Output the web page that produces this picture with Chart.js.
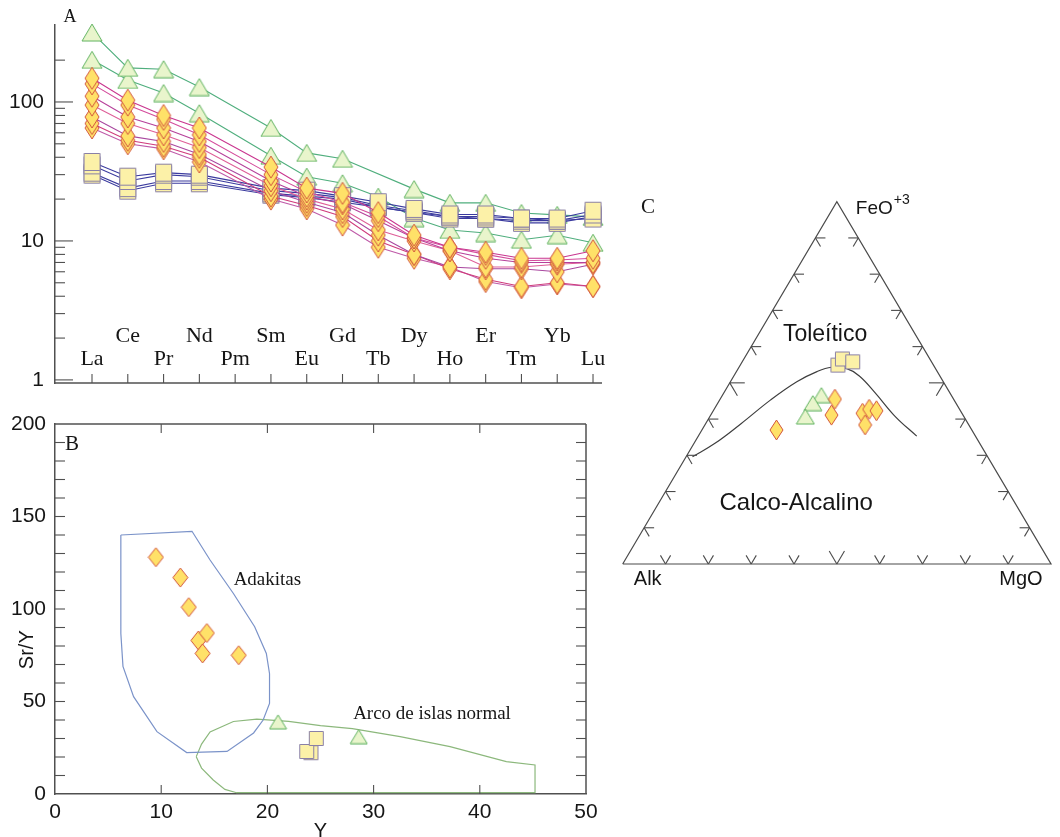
<!DOCTYPE html>
<html>
<head>
<meta charset="utf-8">
<script src="https://cdn.jsdelivr.net/npm/chart.js@4.4.1/dist/chart.umd.min.js"></script>
<style>
  html, body { margin: 0; padding: 0; background: #fff; overflow: hidden; }
  .layer { position: absolute; left: 0; top: 0; }
</style>
</head>
<body>
<canvas id="panelA" class="layer" width="1060" height="837"></canvas>
<canvas id="panelB" class="layer" width="1060" height="837"></canvas>
<canvas id="panelC" class="layer" width="1060" height="837"></canvas>
<script>
// Three-panel geochemistry figure: A REE spider (log), B Sr/Y vs Y, C AFM ternary.
// Each panel is its own Chart.js chart on a full-page transparent canvas.

const SANS = "'Liberation Sans', Arial, sans-serif";
const SERIF = "'Liberation Serif', 'Times New Roman', serif";
const INK = "#161616";
const FRAME = "#505050";

// ---------- panel A: chondrite-normalised REE ----------
const ree = ["La", "Ce", "Pr", "Nd", "Pm", "Sm", "Eu", "Gd", "Tb", "Dy", "Ho", "Er", "Tm", "Yb", "Lu"];
const yTicksA = [1, 10, 100];

const triA1 = [316, 176, 172, 128, null, 65, 43, 39, null, 23.6, 18.8, 18.8, 15.9, 15.4, 14.9];
const triA2 = [201, 144, 116, 83, null, 41, 29, 26, 20.8, 14.6, 12.0, 11.4, 10.2, 11.0, 9.7];

const sqA1 = [37, 29, 31, 30, null, 24, 23, 21, 19, 17, 15.5, 15.5, 14.5, 14.5, 16.5];
const sqA2 = [35, 27, 30, 29, null, 23, 22, 20.5, 18, 16.5, 15, 15, 14.5, 14, 15.5];
const sqA3 = [31, 24, 27, 27, null, 22, 21, 20, 17.5, 16, 15, 14.5, 14, 14, 14.5];
const sqA4 = [30, 23, 26, 26, null, 21.5, 20.5, 19, 17.5, 16, 14.5, 14.5, 13.5, 13.5, 15];

const diaA1 = [148, 103, 80, 65, null, 34, 24, 22, 16, 11, 9, 8.3, 7.5, 7.5, 8.5];
const diaA2 = [135, 95, 75, 58, null, 30, 22.5, 19, 15, 10.5, 9, 8, 7.2, 7.3, 7.5];
const diaA3 = [110, 78, 65, 52, null, 27, 21, 18.5, 14, 10.5, 8.5, 7.5, 7, 7, 7];
const diaA4 = [95, 70, 58, 47, null, 25, 20, 17, 12, 10, 8.5, 6.5, 6.5, 6.8, 7];
const diaA5 = [78, 57, 52, 42, null, 23, 19, 16, 11, 8, 6.5, 6.3, 6.3, 6, 6.8];
const diaA6 = [70, 53, 48, 40, null, 21, 18, 15, 10, 8, 6.3, 5.3, 4.7, 5, 4.7];
const diaA7 = [65, 50, 46, 37, null, 20, 17, 13, 9, 7.5, 6.5, 5.1, 4.6, 4.9, 4.7];

// ---------- panel B: Sr/Y vs Y ----------
const xTicksB = [0, 10, 20, 30, 40, 50];
const yTicksB = [0, 50, 100, 150, 200];

const diaBx = [9.5, 11.8, 12.6, 13.5, 14.3, 13.9, 17.3];
const diaBy = [128, 117, 101, 83, 87, 76, 75];
const triBx = [21.0, 28.6];
const triBy = [39, 31];
const sqBx = [24.1, 23.7, 24.6];
const sqBy = [22.3, 23, 30];

const adakX = [6.2, 12.9, 14.6, 16.8, 18.8, 19.9, 20.2, 20.2, 19.6, 18.7, 16.2, 12.4, 9.6, 7.4, 6.4, 6.2, 6.2];
const adakY = [140, 142, 126.5, 108.4, 90.4, 76, 65, 49, 40, 33, 23, 22.4, 33.7, 52.6, 69, 86.8, 140];
const arcX = [13.3, 13.8, 14.6, 16.8, 19.0, 22.0, 25.0, 28.0, 32.5, 37.2, 42.5, 45.2, 45.2, 17.1, 16.0, 14.9, 13.8, 13.3];
const arcY = [20.2, 27, 33.5, 39.2, 40.5, 39.3, 37, 35.3, 31, 25.6, 17.5, 15.7, 0.7, 0.7, 2.5, 7.6, 14, 20.2];

// ---------- panel C: AFM ternary (FeO, MgO in %, Alk = rest) ----------
const cornerF = [0, 100, 0, 0];
const cornerM = [0, 0, 100, 0];
const bndF = [29.6, 33.3, 38.8, 45.3, 50.3, 53.1, 54.3, 54.0, 51.9, 47.1, 40.7, 35.3];
const bndM = [1.5, 4.9, 8.3, 11.9, 15.5, 18.8, 21.6, 25.2, 29.3, 35.5, 43.3, 51.0];
const sqCF = [54.9, 56.6, 55.8];
const sqCM = [22.8, 23.0, 25.8];
const triCF = [46.6, 44.4, 40.7];
const triCM = [23.1, 22.2, 22.3];
const diaCF = [45.5, 41.1, 37.0, 41.6, 42.7, 42.3, 38.4];
const diaCM = [26.8, 28.2, 17.4, 35.2, 36.2, 38.1, 37.4];

// ---------- markers ----------
const FILL = { tri: "#e9f5cc", dia: "#ffe168", sq: "#fcf1a8" };
const EDGE = { tri: "#5fb25f", dia: "#d2543c", sq: "#8a80a6" };

function marker(kind, w, h) {
  const c = document.createElement("canvas");
  c.width = w + 2;
  c.height = h + 2;
  const g = c.getContext("2d");
  g.translate(1, 1);
  g.beginPath();
  if (kind === "tri") {
    g.moveTo(w / 2, 0); g.lineTo(w, h); g.lineTo(0, h);
  } else if (kind === "dia") {
    g.moveTo(w / 2, 0); g.lineTo(w, h / 2); g.lineTo(w / 2, h); g.lineTo(0, h / 2);
  } else {
    g.rect(0.5, 0.5, w - 1, h - 1);
  }
  g.closePath();
  g.fillStyle = FILL[kind];
  g.fill();
  g.lineWidth = 1;
  g.strokeStyle = EDGE[kind];
  g.stroke();
  return c;
}

const mkA = { tri: marker("tri", 20, 17), dia: marker("dia", 14, 22), sq: marker("sq", 17, 18) };
const mkB = { tri: marker("tri", 17, 14), dia: marker("dia", 15, 19), sq: marker("sq", 15, 15) };
const mkC = { tri: marker("tri", 18, 15), dia: marker("dia", 13, 20), sq: marker("sq", 15, 15) };

// ---------- helpers ----------
function seg(ctx, x1, y1, x2, y2) {
  ctx.beginPath();
  ctx.moveTo(x1, y1);
  ctx.lineTo(x2, y2);
  ctx.stroke();
}

const zip = (xs, ys) => xs.map((x, i) => ({ x, y: ys[i] }));
const tern = (fs, ms) => fs.map((f, i) => ({ x: (ms[i] + f / 2) / 100, y: f / 100 }));

function markSet(data, style) {
  return { data, showLine: false, pointStyle: style, pointRadius: 8, clip: false };
}

function outline(data, color, width, tension = 0) {
  return { data, borderColor: color, borderWidth: width, pointRadius: 0, tension, clip: false };
}

const baseOpts = {
  responsive: false,
  animation: false,
  events: [],
  plugins: { legend: { display: false }, tooltip: { enabled: false } },
};

Chart.defaults.font.family = SANS;
Chart.defaults.color = INK;

// ---------- A ----------
function reeSet(vals, line, style) {
  return {
    data: vals.map((v, i) => ({ x: i, y: v })),
    borderColor: line, borderWidth: 1.1,
    pointStyle: style, pointRadius: 8,
    spanGaps: true, clip: false,
  };
}

const diaLines = ["#c9358f", "#d44c9c", "#b6409a", "#de5e98", "#a9479f", "#cf3b7c", "#bf5aa8"];

const panelADecor = {
  id: "panelADecor",
  afterDraw(chart) {
    const { ctx, chartArea: a, scales: { x, y } } = chart;
    ctx.save();
    ctx.strokeStyle = FRAME;
    ctx.lineWidth = 1.5;
    seg(ctx, a.left, a.bottom, a.right, a.bottom);
    ctx.lineWidth = 1.1;
    ree.forEach((_, i) => {
      const px = x.getPixelForValue(i);
      seg(ctx, px, a.bottom, px, a.bottom - 9);
    });
    for (let d = 1; d <= 100; d *= 10) {
      for (let k = 1; k <= 9; k++) {
        const v = d * k;
        if (v > 200) break;
        const py = y.getPixelForValue(v);
        seg(ctx, a.left, py, a.left + (k === 1 ? 18 : 10), py);
      }
    }
    ctx.fillStyle = INK;
    ctx.font = `22px ${SERIF}`;
    ctx.textAlign = "center";
    ctx.textBaseline = "alphabetic";
    ree.forEach((el, i) => ctx.fillText(el, x.getPixelForValue(i), a.bottom - (i % 2 ? 41 : 18)));
    ctx.font = `18px ${SERIF}`;
    ctx.fillText("A", a.left + 15, a.top - 3);
    ctx.restore();
  },
};

new Chart(document.getElementById("panelA"), {
  type: "line",
  data: {
    datasets: [
      ...[diaA1, diaA2, diaA3, diaA4, diaA5, diaA6, diaA7].map((v, i) => reeSet(v, diaLines[i], mkA.dia)),
      ...[sqA1, sqA2, sqA3, sqA4].map((v) => reeSet(v, "#3a3a9e", mkA.sq)),
      ...[triA1, triA2].map((v) => reeSet(v, "#4fae7d", mkA.tri)),
    ],
  },
  options: {
    ...baseOpts,
    layout: { padding: { left: 0, top: 25, right: 458, bottom: 454 } },
    scales: {
      x: { type: "linear", min: -1.034, max: 14.251, display: false },
      y: {
        type: "logarithmic", min: 0.95, max: 358,
        afterFit: (s) => { s.width = 55; },
        afterBuildTicks: (s) => { s.ticks = yTicksA.map((v) => ({ value: v })); },
        grid: { display: false, drawTicks: false },
        border: { display: true, color: FRAME, width: 1.5 },
        ticks: { font: { size: 21 }, color: INK, padding: 11, callback: (v) => String(v) },
      },
    },
  },
  plugins: [panelADecor],
});

// ---------- B ----------
const panelBDecor = {
  id: "panelBDecor",
  afterDraw(chart) {
    const { ctx, chartArea: a, scales: { x, y } } = chart;
    ctx.save();
    ctx.strokeStyle = FRAME;
    ctx.lineWidth = 1.5;
    seg(ctx, a.left, a.top, a.right, a.top);
    seg(ctx, a.right, a.top, a.right, a.bottom);
    ctx.lineWidth = 1.1;
    for (let v = 10; v < 50; v += 10) {
      const px = x.getPixelForValue(v);
      seg(ctx, px, a.top, px, a.top + 9);
      seg(ctx, px, a.bottom, px, a.bottom - 9);
    }
    for (let v = 10; v < 200; v += 10) {
      const py = y.getPixelForValue(v);
      seg(ctx, a.left, py, a.left + 10, py);
      seg(ctx, a.right, py, a.right - 10, py);
    }
    ctx.fillStyle = INK;
    ctx.textBaseline = "alphabetic";
    ctx.font = `21px ${SERIF}`;
    ctx.textAlign = "left";
    ctx.fillText("B", a.left + 10, a.top + 26);
    ctx.font = `19px ${SERIF}`;
    ctx.textAlign = "center";
    ctx.fillText("Adakitas", x.getPixelForValue(20), y.getPixelForValue(113));
    ctx.fillText("Arco de islas normal", x.getPixelForValue(35.5), y.getPixelForValue(40.5));
    ctx.font = `20px ${SANS}`;
    ctx.fillText("Y", x.getPixelForValue(25), a.bottom + 43);
    ctx.translate(a.left - 22, y.getPixelForValue(78));
    ctx.rotate(-Math.PI / 2);
    ctx.fillText("Sr/Y", 0, 0);
    ctx.restore();
  },
};

const axisB = (ticks, fit) => ({
  type: "linear", min: ticks[0], max: ticks[ticks.length - 1],
  afterFit: fit,
  afterBuildTicks: (s) => { s.ticks = ticks.map((v) => ({ value: v })); },
  grid: { display: false, drawTicks: false },
  border: { display: true, color: FRAME, width: 1.5 },
  ticks: { font: { size: 21 }, color: INK, maxRotation: 0 },
});

const xB = axisB(xTicksB, (s) => { s.height = 43; });
xB.ticks.padding = 6;
const yB = axisB(yTicksB, (s) => { s.width = 55; });
yB.ticks.padding = 9;

new Chart(document.getElementById("panelB"), {
  type: "line",
  data: {
    datasets: [
      markSet(zip(diaBx, diaBy), mkB.dia),
      markSet(zip(sqBx, sqBy), mkB.sq),
      markSet(zip(triBx, triBy), mkB.tri),
      outline(zip(adakX, adakY), "#7b93c9", 1.2),
      outline(zip(arcX, arcY), "#8cb87c", 1.2),
    ],
  },
  options: {
    ...baseOpts,
    layout: { padding: { left: 0, top: 424, right: 474, bottom: 0 } },
    scales: { x: xB, y: yB },
  },
  plugins: [panelBDecor],
});

// ---------- C ----------
const panelCDecor = {
  id: "panelCDecor",
  afterDraw(chart) {
    const { ctx, scales: { x, y } } = chart;
    const px = (f, m) => ({ x: x.getPixelForValue((m + f / 2) / 100), y: y.getPixelForValue(f / 100) });
    const alk = px(0, 0), fe = px(100, 0), mg = px(0, 100);
    const unit = (p, q) => { const dx = q.x - p.x, dy = q.y - p.y, l = Math.hypot(dx, dy); return { x: dx / l, y: dy / l }; };
    const sides = [
      { at: (t) => px(0, t), arms: [unit(alk, fe), unit(mg, fe)] },
      { at: (t) => px(t, 0), arms: [unit(alk, mg), unit(fe, mg)] },
      { at: (t) => px(t, 100 - t), arms: [unit(mg, alk), unit(fe, alk)] },
    ];
    ctx.save();
    ctx.strokeStyle = "#4a4a4a";
    ctx.lineWidth = 1.1;
    sides.forEach((s) => {
      for (let t = 10; t < 100; t += 10) {
        const p = s.at(t);
        const len = t === 50 ? 15 : 10;
        s.arms.forEach((u) => seg(ctx, p.x, p.y, p.x + u.x * len, p.y + u.y * len));
      }
    });
    ctx.fillStyle = INK;
    ctx.textBaseline = "alphabetic";
    ctx.textAlign = "center";
    ctx.font = `21px ${SERIF}`;
    ctx.fillText("C", 648, fe.y + 11);
    ctx.font = `20px ${SANS}`;
    ctx.fillText("Alk", alk.x + 25, alk.y + 21);
    ctx.fillText("MgO", mg.x - 30, mg.y + 21);
    ctx.textAlign = "left";
    ctx.font = `19px ${SANS}`;
    ctx.fillText("FeO", fe.x + 19, fe.y + 12);
    ctx.font = `14px ${SANS}`;
    ctx.fillText("+3", fe.x + 57, fe.y + 2);
    ctx.textAlign = "center";
    ctx.font = `23px ${SANS}`;
    const tol = px(61.5, 16.5);
    ctx.fillText("Toleítico", tol.x, tol.y);
    ctx.font = `24px ${SANS}`;
    const calc = px(15, 33);
    ctx.fillText("Calco-Alcalino", calc.x, calc.y);
    ctx.restore();
  },
};

new Chart(document.getElementById("panelC"), {
  type: "line",
  data: {
    datasets: [
      markSet(tern(diaCF, diaCM), mkC.dia),
      markSet(tern(sqCF, sqCM), mkC.sq),
      markSet(tern(triCF, triCM), mkC.tri),
      outline(tern(bndF, bndM), "#3e3e3e", 1.2, 0.4),
      outline(tern(cornerF, cornerM), "#4a4a4a", 1.2),
    ],
  },
  options: {
    ...baseOpts,
    layout: { padding: { left: 622.7, top: 201.7, right: 1.7, bottom: 273 } },
    scales: {
      x: { type: "linear", min: 0, max: 1, display: false },
      y: { type: "linear", min: 0, max: 1, display: false },
    },
  },
  plugins: [panelCDecor],
});
</script>
</body>
</html>
